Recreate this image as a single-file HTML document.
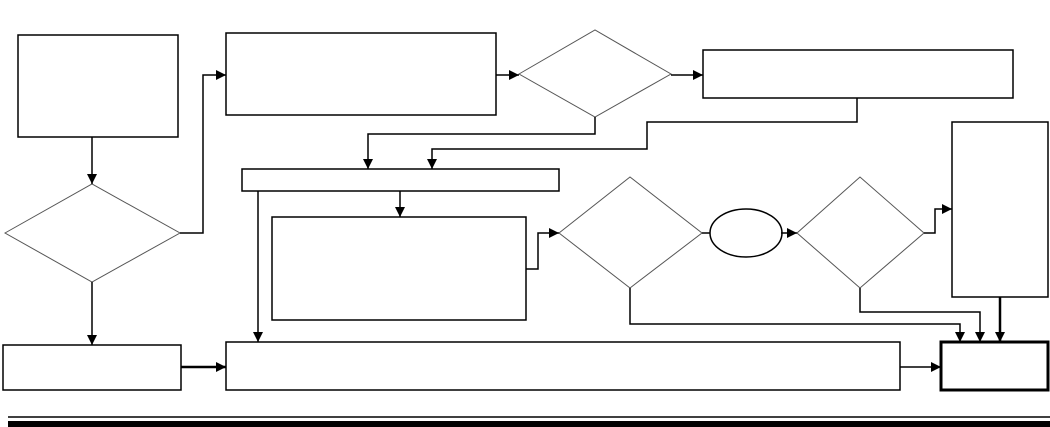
<!DOCTYPE html>
<html><head><meta charset="utf-8"><style>html,body{margin:0;padding:0;background:#fff}svg{display:block}</style></head>
<body>
<svg width="1050" height="427" viewBox="0 0 1050 427" xmlns="http://www.w3.org/2000/svg">
<defs>
<marker id="a" viewBox="0 0 10 10" refX="10" refY="5" markerWidth="10" markerHeight="10" markerUnits="userSpaceOnUse" orient="auto"><path d="M0,0 L10,5 L0,10 z" fill="#000"/></marker>
</defs>
<g fill="none" stroke="#000" stroke-width="1.5">
<rect x="18" y="35" width="160" height="102"/>
<rect x="226" y="33" width="270" height="82"/>
<rect x="703" y="50" width="310" height="48"/>
<rect x="242" y="169" width="317" height="22"/>
<rect x="272" y="217" width="254" height="103"/>
<rect x="952" y="122" width="96" height="175"/>
<rect x="226" y="342" width="674" height="48"/>
<rect x="3" y="345" width="178" height="45"/>
<rect x="941" y="342" width="107" height="48" stroke-width="3"/>
<ellipse cx="746" cy="233" rx="36" ry="24"/>
</g>
<g fill="none" stroke="#555" stroke-width="1">
<polygon points="5,233 92,184 180,233 92,282"/>
<polygon points="519,74 595,30 671,74 595,117"/>
<polygon points="559,233 630,177 702,233 630,288"/>
<polygon points="797,233 860,177 924,233 860,288"/>
</g>
<g fill="none" stroke="#000" stroke-width="1.5">
<path d="M92,137 V184" marker-end="url(#a)"/>
<path d="M180,233 H203 V75 H226" marker-end="url(#a)"/>
<path d="M92,282 V345" marker-end="url(#a)"/>
<path d="M496,75 H519" marker-end="url(#a)"/>
<path d="M671,75 H703" marker-end="url(#a)"/>
<path d="M595,117 V134 H368 V169" marker-end="url(#a)"/>
<path d="M857,98 V122 H647 V149 H432 V169" marker-end="url(#a)"/>
<path d="M400,191 V217" marker-end="url(#a)"/>
<path d="M258,191 V342" marker-end="url(#a)"/>
<path d="M526,269 H538 V233 H559" marker-end="url(#a)"/>
<path d="M702,233 H710"/>
<path d="M781,233 H797" marker-end="url(#a)"/>
<path d="M924,233 H935 V209 H952" marker-end="url(#a)"/>
<path d="M630,288 V324 H960 V342" marker-end="url(#a)"/>
<path d="M860,288 V312 H980 V342" marker-end="url(#a)"/>
<path d="M1000,297 V342" stroke-width="2.5" marker-end="url(#a)"/>
<path d="M900,367 H941" marker-end="url(#a)"/>
<path d="M181,367 H226" stroke-width="2.5" marker-end="url(#a)"/>
</g>
<line x1="8" y1="417" x2="1050" y2="417" stroke="#000" stroke-width="1.5"/>
<rect x="8" y="421" width="1042" height="6" fill="#000"/>
</svg>
</body></html>
